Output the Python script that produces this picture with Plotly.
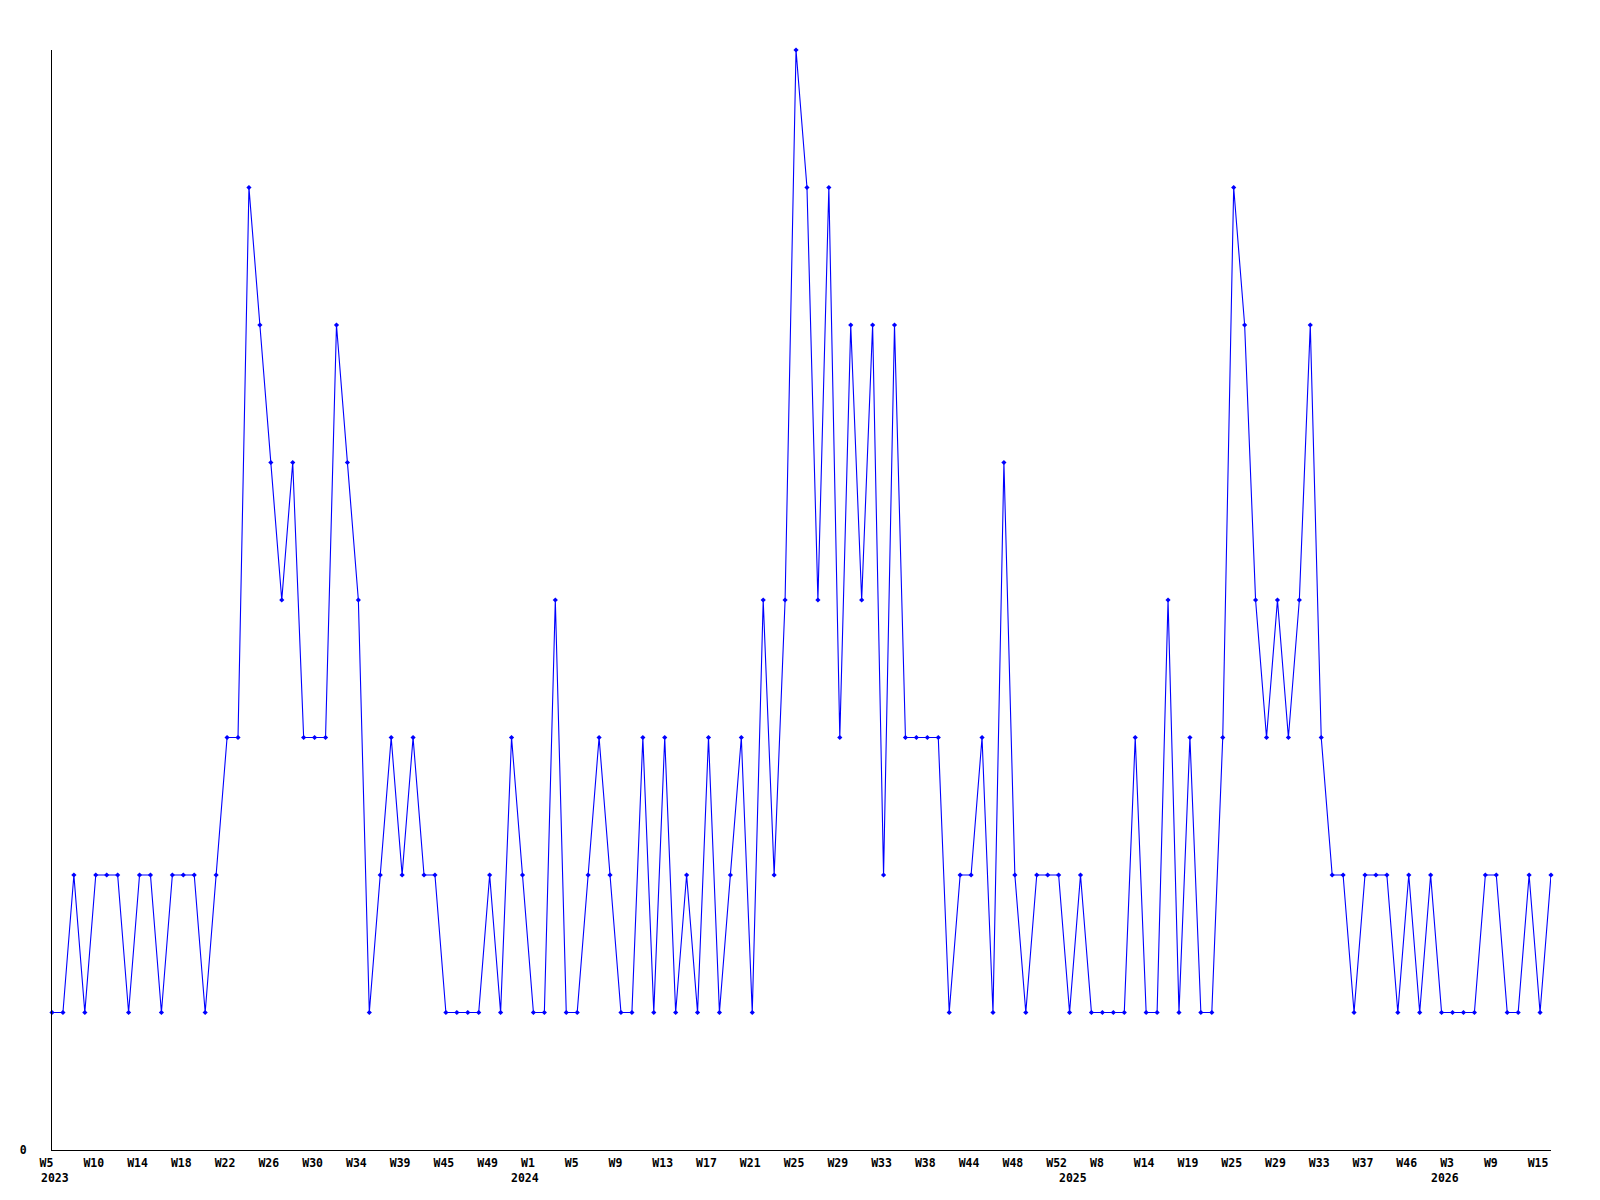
import plotly.graph_objects as go

# Weekly counts, one per point (138 consecutive reporting weeks, 2023 W5 .. 2026 W16)
values = [
    1, 1, 2, 1, 2, 2, 2, 1, 2, 2, 1, 2, 2, 2, 1, 2, 3, 3, 7, 6,
    5, 4, 5, 3, 3, 3, 6, 5, 4, 1, 2, 3, 2, 3, 2, 2, 1, 1, 1, 1,
    2, 1, 3, 2, 1, 1, 4, 1, 1, 2, 3, 2, 1, 1, 3, 1, 3, 1, 2, 1,
    3, 1, 2, 3, 1, 4, 2, 4, 8, 7, 4, 7, 3, 6, 4, 6, 2, 6, 3, 3,
    3, 3, 1, 2, 2, 3, 1, 5, 2, 1, 2, 2, 2, 1, 2, 1, 1, 1, 1, 3,
    1, 1, 4, 1, 3, 1, 1, 3, 7, 6, 4, 3, 4, 3, 4, 6, 3, 2, 2, 1,
    2, 2, 2, 1, 2, 1, 2, 1, 1, 1, 1, 2, 2, 1, 1, 2, 1, 2,
]

# Tick labels, shown on every 4th point
week_labels = [
    "W5", "W10", "W14", "W18", "W22", "W26", "W30", "W34", "W39", "W45",
    "W49", "W1", "W5", "W9", "W13", "W17", "W21", "W25", "W29", "W33",
    "W38", "W44", "W48", "W52", "W8", "W14", "W19", "W25", "W29", "W33",
    "W37", "W46", "W3", "W9", "W15",
]
label_step = 4

# Year labels and the index of the point where each year starts
years = ["2023", "2024", "2025", "2026"]
year_start_index = [0, 43, 93, 127]

x = list(range(len(values)))
tickvals = [i * label_step for i in range(len(week_labels))]
# pad to 3 chars (monospace) so labels read as left-anchored like the original
ticktext = [lab + "\u00a0" * (3 - len(lab)) for lab in week_labels]

FONT = dict(family="DejaVu Sans Mono", size=11.5, color="black", weight="bold")

fig = go.Figure()
fig.add_trace(go.Scatter(
    x=x, y=values, mode="lines+markers",
    line=dict(color="#0000ff", width=1.1),
    marker=dict(symbol="diamond", size=4, color="#0000ff"),
    cliponaxis=False,
    hoverinfo="x+y",
))

for yr, idx in zip(years, year_start_index):
    fig.add_annotation(
        x=idx, y=0, xref="x", yref="y", text=yr, showarrow=False,
        xanchor="left", yanchor="top", xshift=-13, yshift=-19,
        font=FONT,
    )

# the page body adds an 8px margin, so the figure is sized/offset to compensate
fig.update_layout(
    width=1592, height=1192,
    margin=dict(l=42, r=49, t=42, b=50, pad=0),
    plot_bgcolor="white", paper_bgcolor="white",
    showlegend=False,
    font=FONT,
)
fig.update_xaxes(
    range=[0, len(values) - 1], tickvals=tickvals, ticktext=ticktext,
    showgrid=False, zeroline=False, showline=True, linecolor="black", linewidth=1,
    ticks="", tickfont=FONT, ticklabelstandoff=2, ticklabelshift=-2,
)
fig.update_yaxes(
    range=[0, 8], tickvals=[0], ticktext=["0"],
    showgrid=False, zeroline=False, showline=True, linecolor="black", linewidth=1,
    ticks="", tickfont=FONT, ticklabelstandoff=22,
)

fig.write_html("out.html")
